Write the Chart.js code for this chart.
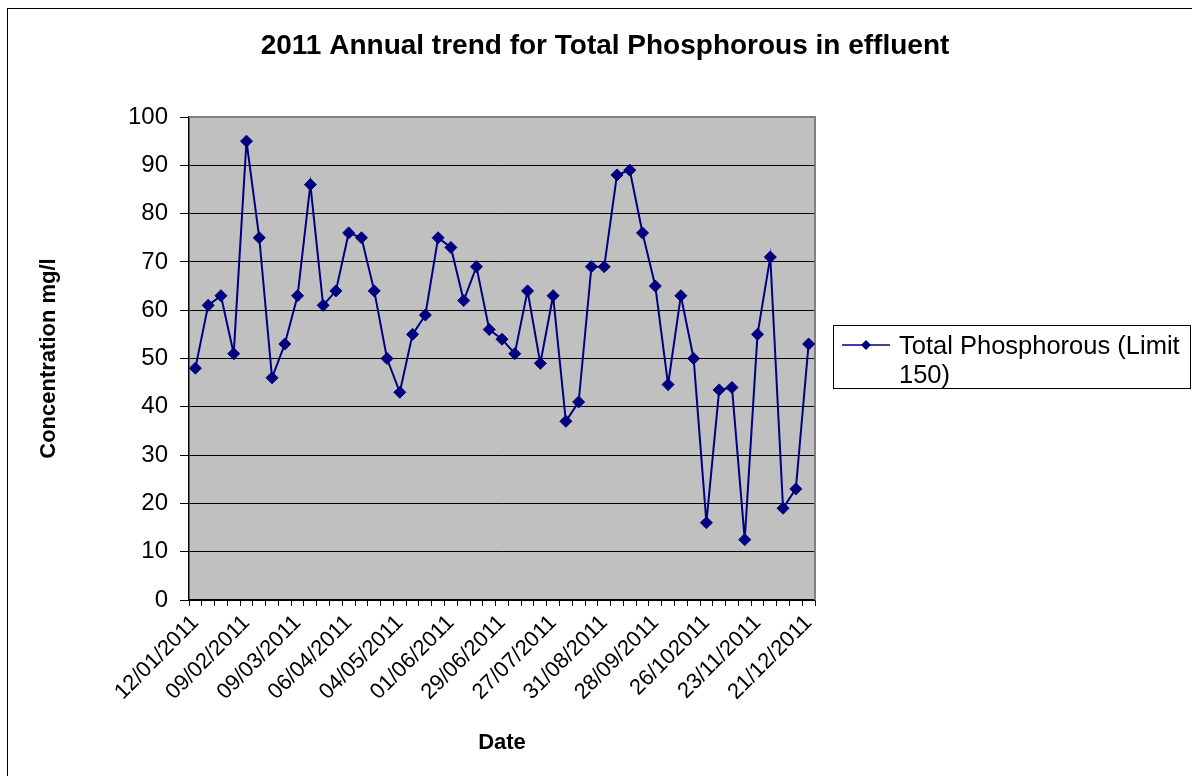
<!DOCTYPE html>
<html>
<head>
<meta charset="utf-8">
<title>2011 Annual trend for Total Phosphorous in effluent</title>
<script src="https://cdn.jsdelivr.net/npm/chart.js@4.4.1/dist/chart.umd.min.js"></script>
<style>
  html, body { margin: 0; padding: 0; background: #fff; }
  #wrap { width: 1192px; height: 776px; }
</style>
</head>
<body>
<div id="wrap"><canvas id="chart" width="1192" height="776"></canvas></div>
<script>
// Weekly effluent samples, 2011 (one August week not sampled)
const sampleDates = [
  '12/01/2011', '19/01/2011', '26/01/2011', '02/02/2011',
  '09/02/2011', '16/02/2011', '23/02/2011', '02/03/2011',
  '09/03/2011', '16/03/2011', '23/03/2011', '30/03/2011',
  '06/04/2011', '13/04/2011', '20/04/2011', '27/04/2011',
  '04/05/2011', '11/05/2011', '18/05/2011', '25/05/2011',
  '01/06/2011', '08/06/2011', '15/06/2011', '22/06/2011',
  '29/06/2011', '06/07/2011', '13/07/2011', '20/07/2011',
  '27/07/2011', '03/08/2011', '10/08/2011', '24/08/2011',
  '31/08/2011', '07/09/2011', '14/09/2011', '21/09/2011',
  '28/09/2011', '05/10/2011', '12/10/2011', '19/10/2011',
  '26/10/2011', '02/11/2011', '09/11/2011', '16/11/2011',
  '23/11/2011', '30/11/2011', '07/12/2011', '14/12/2011',
  '21/12/2011'
];

// Total phosphorous concentration, mg/l
const totalPhosphorous = [
  48, 61, 63, 51, 95, 75, 46, 53, 63, 86,
  61, 64, 76, 75, 64, 50, 43, 55, 59, 75,
  73, 62, 69, 56, 54, 51, 64, 49, 63, 37,
  41, 69, 69, 88, 89, 76, 65, 44.6, 63, 50,
  16, 43.5, 44, 12.5, 55, 71, 19, 23, 53
];

// Date labels printed under every fourth sample
const tickLabels = [
  '12/01/2011', '09/02/2011', '09/03/2011', '06/04/2011', '04/05/2011',
  '01/06/2011', '29/06/2011', '27/07/2011', '31/08/2011', '28/09/2011',
  '26/102011', '23/11/2011', '21/12/2011'
];
const tickEvery = 4;

const seriesLabel = 'Total Phosphorous (Limit 150)';
const chartTitle = '2011 Annual trend for Total Phosphorous in effluent';
const yTitle = 'Concentration mg/l';
const xTitle = 'Date';
const yMin = 0, yMax = 100, yStep = 10;

const FONT = "'Liberation Sans', Arial, Helvetica, sans-serif";
const NAVY = '#000080';

// Page frame, grey plot area and the boxed legend at the right
const framePlugin = {
  id: 'framePlugin',
  beforeDraw(chart) {
    const { ctx, chartArea: a } = chart;
    ctx.save();
    ctx.fillStyle = '#ffffff';
    ctx.fillRect(0, 0, chart.width, chart.height);
    ctx.strokeStyle = '#000000';
    ctx.lineWidth = 1;
    ctx.strokeRect(7.5, 8.5, chart.width + 20, chart.height + 20);
    ctx.fillStyle = '#c0c0c0';
    ctx.fillRect(a.left, a.top, a.right - a.left, a.bottom - a.top);
    ctx.restore();
  },
  beforeDatasetsDraw(chart) {
    const { ctx, chartArea: a } = chart;
    ctx.save();
    ctx.strokeStyle = '#808080';
    ctx.lineWidth = 2;
    ctx.beginPath();
    ctx.moveTo(a.left, a.top);
    ctx.lineTo(a.right, a.top);
    ctx.lineTo(a.right, a.bottom);
    ctx.stroke();
    ctx.restore();
  },
  afterDraw(chart) {
    const { ctx } = chart;
    const ds = chart.data.datasets[0];
    const box = { x: 833.5, y: 325.5, w: 357, h: 63 };
    ctx.save();
    ctx.fillStyle = '#ffffff';
    ctx.fillRect(box.x, box.y, box.w, box.h);
    ctx.strokeStyle = '#000000';
    ctx.lineWidth = 1;
    ctx.strokeRect(box.x, box.y, box.w, box.h);

    // sample line with diamond marker
    const ly = 345, mx = 866, r = 5;
    ctx.strokeStyle = ds.borderColor;
    ctx.lineWidth = 1.5;
    ctx.beginPath();
    ctx.moveTo(842, ly);
    ctx.lineTo(890, ly);
    ctx.stroke();
    ctx.fillStyle = ds.pointBackgroundColor;
    ctx.beginPath();
    ctx.moveTo(mx - r, ly); ctx.lineTo(mx, ly - r); ctx.lineTo(mx + r, ly); ctx.lineTo(mx, ly + r);
    ctx.closePath();
    ctx.fill();

    // label wrapped to the legend width
    ctx.font = '25.5px ' + FONT;
    ctx.fillStyle = '#000000';
    ctx.textBaseline = 'alphabetic';
    const maxW = 290;
    const words = ds.label.split(' ');
    const lines = [];
    let cur = '';
    for (const w of words) {
      const test = cur ? cur + ' ' + w : w;
      if (ctx.measureText(test).width > maxW && cur) { lines.push(cur); cur = w; }
      else cur = test;
    }
    if (cur) lines.push(cur);
    lines.forEach((t, i) => ctx.fillText(t, 899, 354 + i * 29));
    ctx.restore();
  }
};

new Chart(document.getElementById('chart'), {
  type: 'line',
  data: {
    labels: sampleDates,
    datasets: [{
      label: seriesLabel,
      data: totalPhosphorous,
      borderColor: NAVY,
      backgroundColor: NAVY,
      borderWidth: 2,
      tension: 0,
      fill: false,
      pointStyle: 'rectRot',
      pointRadius: 6,
      pointHoverRadius: 6,
      pointBackgroundColor: NAVY,
      pointBorderColor: NAVY,
      pointBorderWidth: 1
    }]
  },
  options: {
    responsive: false,
    animation: false,
    devicePixelRatio: 1,
    layout: { padding: { left: 18, top: 0, right: 0, bottom: 0 } },
    plugins: {
      legend: { display: false },
      tooltip: { enabled: false },
      title: {
        display: true,
        text: chartTitle,
        color: '#000000',
        font: { family: FONT, size: 28, weight: 'bold', lineHeight: 1.2 },
        padding: { top: 29.2, bottom: 54.2 }
      }
    },
    scales: {
      x: {
        type: 'category',
        offset: true,
        afterFit(scale) { scale.height = 176; },
        grid: {
          display: true,
          offset: true,
          drawOnChartArea: false,
          drawTicks: true,
          tickLength: 6,
          color: '#000000',
          lineWidth: 1
        },
        border: { display: true, color: '#000000', width: 1.5 },
        ticks: {
          autoSkip: false,
          minRotation: 45,
          maxRotation: 45,
          padding: 4,
          color: '#000000',
          font: { family: FONT, size: 22 },
          callback(value, index) {
            return index % tickEvery === 0 ? tickLabels[index / tickEvery] : '';
          }
        },
        title: {
          display: true,
          text: xTitle,
          color: '#000000',
          font: { family: FONT, size: 22, weight: 'bold', lineHeight: 1.2 },
          padding: { top: 0, bottom: 20 }
        }
      },
      y: {
        min: yMin,
        max: yMax,
        afterFit(scale) { scale.width = 171; },
        grid: {
          color: '#000000',
          lineWidth: 1,
          drawTicks: true,
          tickLength: 9
        },
        border: { display: true, color: '#000000', width: 1.5 },
        ticks: {
          stepSize: yStep,
          padding: 12,
          color: '#000000',
          font: { family: FONT, size: 24 }
        },
        title: {
          display: true,
          text: yTitle,
          color: '#000000',
          font: { family: FONT, size: 22, weight: 'bold', lineHeight: 1.2 },
          padding: { top: 18, bottom: 0 }
        }
      },
      // reserves the strip to the right of the plot that holds the legend
      legendSpace: {
        type: 'linear',
        position: 'right',
        display: true,
        afterFit(scale) { scale.width = 377; },
        grid: { display: false, drawTicks: false },
        border: { display: false },
        ticks: { display: false }
      }
    }
  },
  plugins: [framePlugin]
});
</script>
</body>
</html>
